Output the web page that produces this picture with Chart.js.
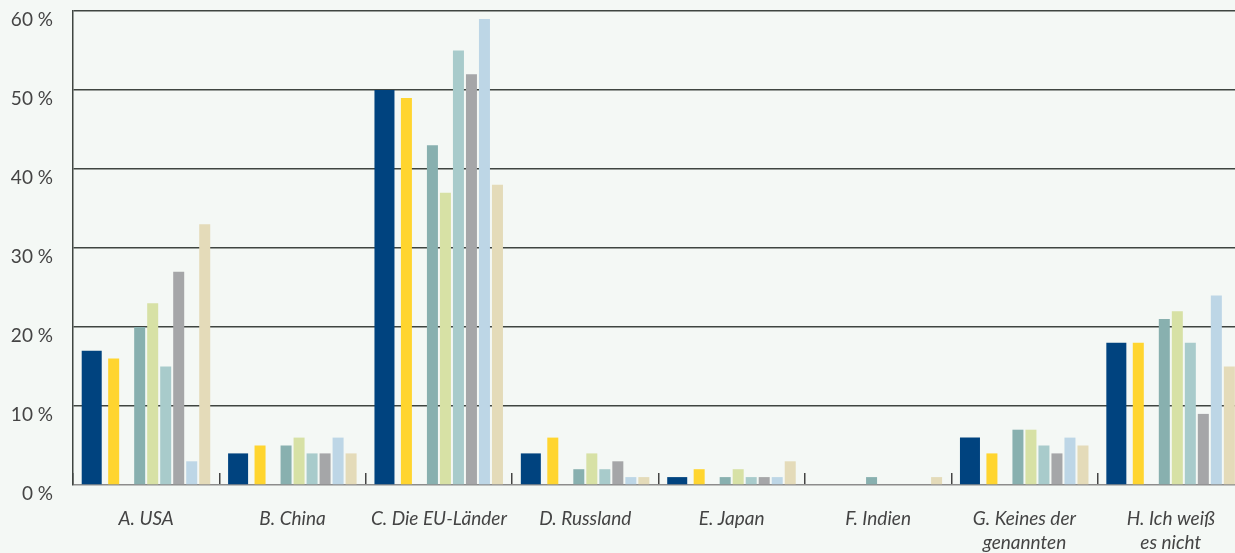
<!DOCTYPE html>
<html>
<head>
<meta charset="utf-8">
<script src="https://cdn.jsdelivr.net/npm/chart.js@4"></script>
<style>
  html, body { margin: 0; padding: 0; background: #f4f8f5; overflow: hidden; }
  #wrap { width: 1235px; height: 553px; overflow: hidden; }
</style>
</head>
<body>
<div id="wrap"><canvas id="usage" width="1250" height="553"></canvas></div>
<script>
// answers per category, one array per series
const categories = [
  "A. USA", "B. China", "C. Die EU-Länder", "D. Russland", "E. Japan",
  "F. Indien", ["G. Keines der", "genannten"], ["H. Ich weiß", "es nicht"]
];
const yTicks = [0, 10, 20, 30, 40, 50, 60];

const serie1 = [17, 4, 50, 4, 1, 0, 6, 18];
const serie2 = [16, 5, 49, 6, 2, 0, 4, 18];
const serie3 = [20, 5, 43, 2, 1, 1, 7, 21];
const serie4 = [23, 6, 37, 4, 2, 0, 7, 22];
const serie5 = [15, 4, 55, 2, 1, 0, 5, 18];
const serie6 = [27, 4, 52, 3, 1, 0, 4, 9];
const serie7 = [3, 6, 59, 1, 1, 0, 6, 24];
const serie8 = [33, 4, 38, 1, 3, 1, 5, 15];

const colors = ['#00437f', '#ffd52f', '#88b0af', '#d7e1a5', '#a8cbcb', '#a5a6a8', '#bdd6e6', '#e4dbb9'];

const CP = 0.8886, BP = 0.846;

function bar(label, data, color, extra) {
  return Object.assign({
    label: label,
    data: data,
    backgroundColor: color,
    categoryPercentage: CP,
    barPercentage: BP
  }, extra || {});
}

// empty slots keep the gaps in each group
const gap = () => ({ label: '', data: [], categoryPercentage: CP, barPercentage: BP });

const datasets = [
  bar('1', serie1, colors[0], { categoryPercentage: 0.827, barPercentage: 1.653 }),
  gap(),
  bar('2', serie2, colors[1]),
  gap(),
  bar('3', serie3, colors[2]),
  bar('4', serie4, colors[3]),
  bar('5', serie5, colors[4]),
  bar('6', serie6, colors[5]),
  bar('7', serie7, colors[6]),
  bar('8', serie8, colors[7])
];

Chart.defaults.font.family = 'Lato, "Open Sans", sans-serif';
Chart.defaults.color = '#444';

new Chart(document.getElementById('usage'), {
  type: 'bar',
  data: { labels: categories, datasets: datasets },
  options: {
    responsive: false,
    animation: false,
    layout: { padding: { left: 0, right: 6, top: 11, bottom: 0 } },
    plugins: { legend: { display: false }, tooltip: { enabled: false } },
    scales: {
      x: {
        offset: true,
        border: { display: false },
        grid: {
          drawOnChartArea: false,
          tickLength: -12,
          color: '#444',
          lineWidth: 1.5
        },
        ticks: {
          padding: 34,
          maxRotation: 0,
          autoSkip: false,
          font: { size: 19, style: 'italic', lineHeight: 1.25 }
        },
        afterFit: (scale) => { scale.height = 68; scale.paddingLeft = 0; scale.paddingRight = 0; }
      },
      y: {
        min: 0,
        max: 60,
        afterBuildTicks: (scale) => { scale.ticks = yTicks.map(v => ({ value: v })); },
        border: { display: true, color: '#3f4541', width: 1.5 },
        grid: {
          drawTicks: false,
          lineWidth: 1.5,
          color: (ctx) => ctx.tick && ctx.tick.value === 0 ? '#8c8c8c' : '#3f4541'
        },
        ticks: {
          padding: 20,
          labelOffset: 9,
          font: { size: 19 },
          callback: (v) => v + ' %'
        },
        afterFit: (scale) => { scale.width = 73; scale.paddingTop = 0; scale.paddingBottom = 0; }
      }
    }
  }
});
</script>
</body>
</html>
